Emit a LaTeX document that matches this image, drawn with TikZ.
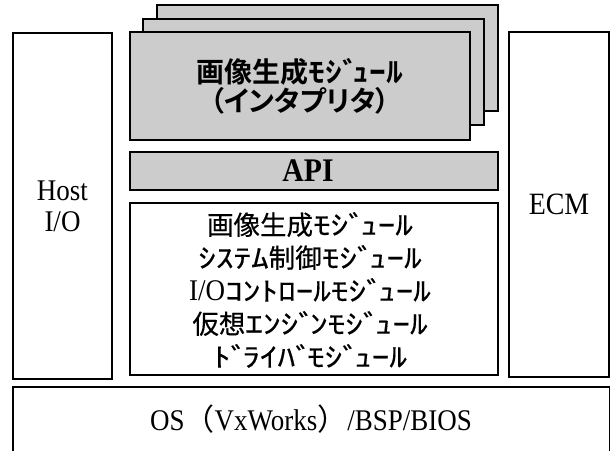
\documentclass[tikz,border=0pt]{standalone}
\usepackage{fontspec}
\setmainfont{Liberation Serif}[FakeStretch=0.9]
\newfontfamily\jpr{Noto Sans CJK JP}[FakeBold=0.35]
\newfontfamily\jprhw{Noto Sans CJK JP}[FakeStretch=1.33,FakeBold=0.35]
\newfontfamily\jpb{Noto Sans CJK JP Bold}
\newfontfamily\jpbhw{Noto Sans CJK JP Bold}[FakeStretch=1.2]
\newfontfamily\jpbp{Noto Sans CJK JP Bold}[RawFeature=+palt]
\newfontfamily\jpparen{Noto Sans CJK JP}
\newcommand\hwk[1]{{\jprhw #1}}
\newcommand\dk{ﾞ\kern-.22em}
\definecolor{dotgray}{RGB}{204,204,204}
\begin{document}
\begin{tikzpicture}[x=1pt,y=-1pt,
  blk/.style={draw=black, line width=1.4pt, inner sep=0pt, align=center},
  shadebox/.style={blk, fill=dotgray, minimum width=341pt, minimum height=106pt}]
\useasboundingbox (0,0) rectangle (616,452);
% stacked interpreter modules
\node[shadebox] (back) at (327.5,58) {};
\node[shadebox] (mid) at (313.5,72) {};
\node[shadebox, minimum width=340pt, minimum height=108pt,
      font={\fontsize{28}{29}\selectfont\jpb}] (front) at (300,86)
  {画像生成{\jpbhw ﾓｼ\dk ｭｰﾙ}\\{\jpbp （インタプリタ）}};
% API
\node[blk, fill=dotgray, minimum width=368pt, minimum height=38pt] (api) at (314,171) {};
\node[inner sep=0pt, font={\fontsize{33}{33}\selectfont\bfseries}] (apitxt) at (308,171) {API};
% modules
\node[blk, minimum width=368pt, minimum height=172pt] (mods) at (314,289) {};
\node[inner sep=0pt, align=center, font={\fontsize{26.5}{33}\selectfont\jpr}] (modstxt) at (310,290)
  {画像生成\hwk{ﾓｼ\dk ｭｰﾙ}\\\hwk{ｼｽﾃﾑ}制御\hwk{ﾓｼ\dk ｭｰﾙ}\\{\rmfamily\fontsize{30}{33}\selectfont I/O}\hwk{ｺﾝﾄﾛｰﾙﾓｼ\dk ｭｰﾙ}\\仮想\hwk{ｴﾝｼ\dk ﾝﾓｼ\dk ｭｰﾙ}\\\hwk{ﾄ\dk ﾗｲﾊ\dk ﾓｼ\dk ｭｰﾙ}};
% side boxes
\node[blk, minimum width=99pt, minimum height=346pt,
      font={\fontsize{30}{31}\selectfont}] (host) at (62.5,206) {Host\\I/O};
\node[blk, minimum width=100pt, minimum height=345pt,
      font={\fontsize{31}{31}\selectfont}] (ecm) at (559,204.5) {ECM};
% OS layer (bottom edge outside the picture)
\node[inner sep=0pt, minimum width=596pt, minimum height=64pt,
      font={\fontsize{30}{30}\selectfont}] (os) at (311,419)
  {OS{\jpparen （}VxWorks{\jpparen ）}/BSP/BIOS};
\draw[line width=1.4pt] (os.south west) |- (os.north east) -- (os.south east);
\end{tikzpicture}
\end{document}
